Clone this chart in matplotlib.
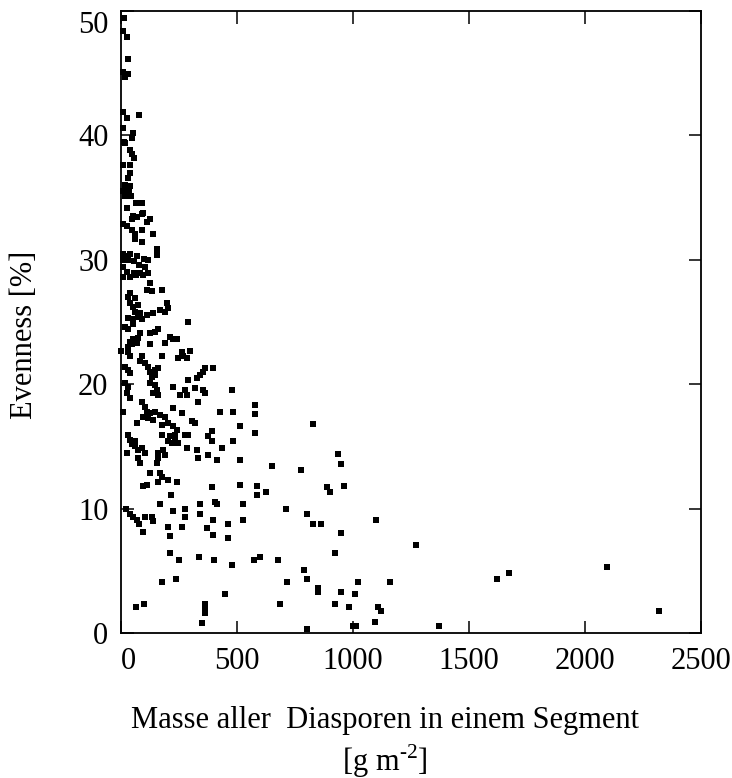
import matplotlib
matplotlib.use("Agg")
import matplotlib.pyplot as plt
import matplotlib.transforms as mtransforms

plt.rcParams["font.family"] = "Liberation Serif"
plt.rcParams["mathtext.fontset"] = "custom"
plt.rcParams["mathtext.rm"] = "Liberation Serif"

# Masse [g m-2], Evenness [%]
masse = [
    13, 9, 26, 30, 9, 17, 30,
    9, 26, 78,
    9, 52, 47, 13,
    17, 39, 47, 56,
    9, 39,
    39, 30, 17, 39,
    9, 22, 35, 17, 30, 43,
    82, 90, 65,
    26, 52, 90, 125, 112, 69, 95, 138, 47,
    9, 26, 47, 60, 90,
    60, 90,
    155, 155,
    9, 20, 39, 69, 99, 56, 78, 116, 30, 9,
    9, 26, 56, 82, 103, 116,
    9, 39, 65, 95,
    125, 112, 134, 177,
    39, 60, 30,
    # 20 - 27 %
    39, 52, 73, 60, 82, 112, 138, 168, 190, 198, 202,
    289,
    30, 52, 73, 90, 17, 30, 52,
    125, 146, 159,
    82, 73, 52, 39, 69, 47, 30,
    125,
    190, 211, 224, 241,
    0,
    30, 39,
    90, 82, 103, 116,
    177,
    263, 267, 246, 284, 297,
    17, 30, 39,
    125, 146, 159, 146, 134,
    362, 353, 340, 328, 397,
    289,
    # 11.5 - 20 %
    17, 30, 26, 39, 125, 146, 155, 138, 159, 224, 254, 276, 284, 319, 353, 362, 332, 478,
    9, 90, 103, 112, 125, 146, 168, 190, 116, 138, 95, 69, 224, 263, 306, 319, 427, 483,
    177, 202, 224, 241, 233, 211, 202, 220, 233, 246, 276, 289, 392, 375, 392, 513, 483,
    30, 39, 60, 47, 177,
    60, 73, 90, 103, 73, 82, 26, 159, 181, 190, 159, 155, 284, 328, 332, 375, 414, 436, 513,
    125, 168, 177, 159, 202, 241, 112, 392, 513,
    578, 578, 578,
    827, 651, 776, 935, 948,
    # below 11.5 %
    95,
    586, 586, 625,
    888, 901, 961,
    215, 405, 414, 340, 168, 526, 711,
    22, 39, 52, 69, 78,
    103, 134, 138,
    224, 276, 276,
    340, 397, 461, 526,
    802, 827, 862, 1099,
    95, 202, 211, 263,
    371, 397, 461, 948,
    211, 250, 336, 401, 478, 573, 599, 677,
    789, 922, 1272,
    177, 237,
    716, 802, 849, 849,
    948, 1022, 1160, 1009, 448,
    65, 99,
    362, 362, 362,
    685, 922, 983, 1108, 1121,
    349, 802, 1000, 1013, 1095, 1371,
    1621, 1672, 2095, 2319,
]
evenness = [
    49.4, 48.4, 47.9, 46.1, 45.1, 44.7, 44.9,
    41.9, 41.4, 41.6,
    40.6, 40.2, 39.8, 39.5,
    39.4, 38.8, 38.5, 38.2,
    37.6, 37.6,
    37.0, 36.6, 36.0, 35.9,
    35.5, 35.4, 35.5, 35.1, 35.2, 35.1,
    34.6, 34.6, 34.6,
    34.2, 33.5, 33.7, 33.3, 33.0, 33.4, 33.8, 32.1, 33.3,
    32.9, 32.7, 32.4, 32.1, 32.4,
    31.7, 31.4,
    30.9, 30.4,
    30.5, 30.3, 30.5, 30.3, 30.1, 29.9, 29.6, 30.0, 30.0, 30.0,
    29.4, 29.0, 28.9, 28.9, 29.4, 28.9,
    28.6, 28.6, 28.8, 28.8,
    28.1, 27.6, 27.5, 27.6,
    27.3, 26.9, 27.0,
    # 20 - 27 %
    26.5, 26.2, 26.4, 25.8, 25.7, 25.6, 25.7, 26.0, 25.8, 26.5, 26.1,
    25.0,
    25.3, 25.2, 25.4, 25.2, 24.6, 24.4, 24.8,
    24.1, 24.2, 24.4,
    24.1, 23.7, 23.6, 23.4, 23.3, 23.2, 23.0,
    23.2,
    23.3, 23.8, 23.6, 23.6,
    22.7,
    22.6, 22.3,
    22.3, 21.9, 21.7, 21.4,
    22.3,
    22.6, 22.3, 22.1, 22.1, 22.7,
    21.4, 21.1, 20.9,
    21.0, 21.1, 21.3, 20.7, 20.6,
    21.3, 21.0, 20.7, 20.5, 21.3,
    20.3,
    # 11.5 - 20 %
    20.1, 19.8, 19.3, 18.9, 20.1, 19.9, 19.5, 19.3, 19.1, 19.8, 19.1, 19.5, 19.1, 19.7, 19.5, 19.3, 18.6, 19.5,
    17.8, 18.6, 18.2, 17.8, 17.7, 17.8, 17.5, 17.4, 17.3, 17.1, 17.4, 16.9, 18.1, 17.7, 17.0, 16.9, 17.8, 17.8,
    16.7, 16.9, 16.6, 16.3, 15.9, 15.8, 15.4, 15.3, 15.5, 15.3, 15.9, 15.9, 16.2, 15.8, 15.4, 16.6, 15.4,
    15.9, 15.5, 15.4, 15.2, 15.9,
    15.0, 14.7, 14.9, 14.5, 14.1, 13.7, 14.5, 14.5, 14.7, 14.3, 14.1, 13.7, 14.9, 14.7, 14.1, 14.3, 13.9, 14.9, 13.9,
    12.9, 12.9, 12.5, 12.1, 12.3, 12.1, 11.9, 11.7, 11.9,
    18.3, 17.6, 16.1,
    16.8, 13.4, 13.1, 14.4, 13.6,
    # below 11.5 %
    11.8,
    11.8, 11.1, 11.3,
    11.7, 11.3, 11.8,
    11.1, 10.5, 10.4, 10.4, 10.4, 10.4, 10.0,
    10.0, 9.6, 9.3, 9.1, 8.8,
    9.3, 9.3, 9.0,
    9.8, 10.0, 9.3,
    9.6, 9.1, 8.8, 9.1,
    9.6, 8.8, 8.8, 9.1,
    8.1, 8.5, 7.8, 8.5,
    8.4, 7.9, 7.6, 8.0,
    6.4, 5.9, 6.1, 5.9, 5.5, 5.9, 6.1, 5.9,
    5.1, 6.4, 7.1,
    4.1, 4.3,
    4.1, 4.3, 3.6, 3.3,
    3.3, 4.1, 4.1, 3.1, 3.1,
    2.1, 2.3,
    2.3, 2.0, 1.6,
    2.3, 2.3, 2.1, 2.1, 1.8,
    0.8, 0.3, 0.6, 0.6, 0.9, 0.6,
    4.3, 4.8, 5.3, 1.8,
]

x_ticks = [0, 500, 1000, 1500, 2000, 2500]
y_ticks = [0, 10, 20, 30, 40, 50]

fig = plt.figure(figsize=(7.32, 7.78), dpi=100)
ax = fig.add_axes([0.1653, 0.1864, 0.7924, 0.7995])

ax.scatter(masse, evenness, marker="s", s=20, color="black", linewidths=0, clip_on=False)

ax.set_xlim(0, 2500)
ax.set_ylim(0, 50)
ax.set_xticks(x_ticks)
ax.set_yticks(y_ticks)
ax.tick_params(direction="in", length=9, width=1.1, labelsize=22, top=True, right=True)
ax.tick_params(axis="x", pad=10)
ax.tick_params(axis="y", pad=9)
for s in ax.spines.values():
    s.set_linewidth(1.3)

# the outer labels sit a bit inside in the original
lbl0 = ax.get_xticklabels()[0]
lbl0.set_transform(lbl0.get_transform() + mtransforms.ScaledTranslation(7 / 100, 0, fig.dpi_scale_trans))
lbl50 = ax.get_yticklabels()[-1]
lbl50.set_transform(lbl50.get_transform() + mtransforms.ScaledTranslation(0, -11 / 100, fig.dpi_scale_trans))

ax.set_ylabel("Evenness [%]", fontsize=22)
ax.yaxis.set_label_coords(-0.141, 0.479)
ax.set_xlabel("Masse aller  Diasporen in einem Segment\n[g m$^{\\text{-2}}$]", fontsize=22, linespacing=1.25)
ax.xaxis.set_label_coords(0.455, -0.117)

fig.savefig("out.png", dpi=100)
